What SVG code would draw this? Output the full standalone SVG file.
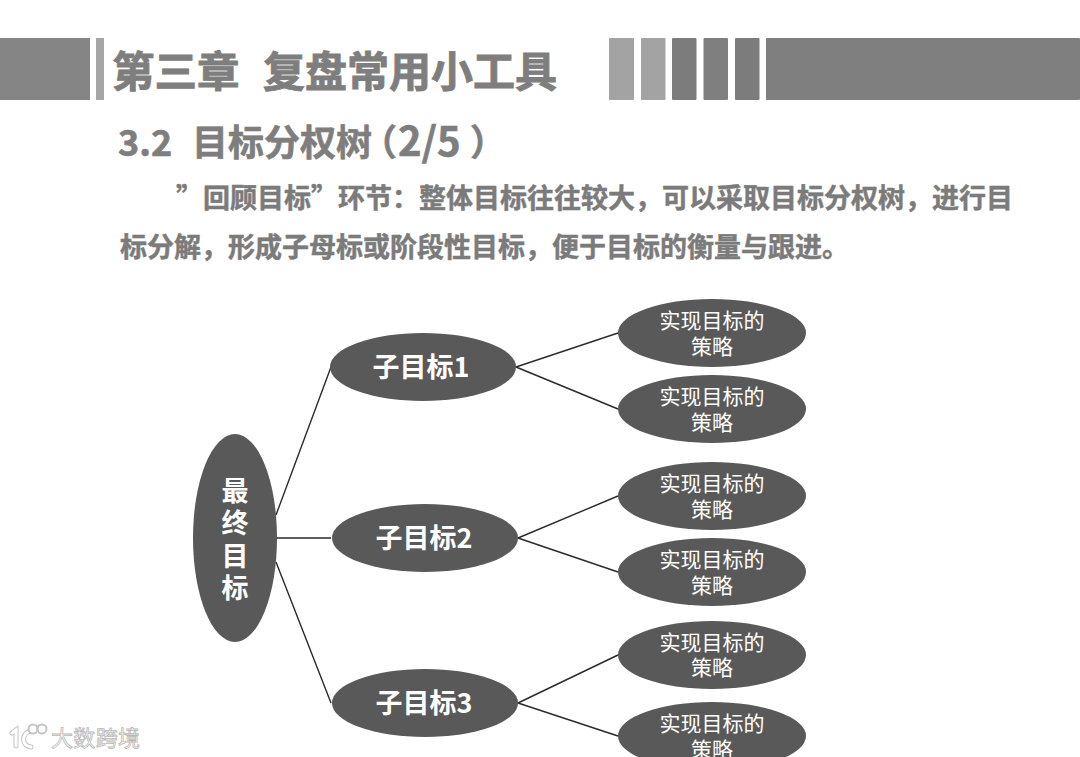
<svg xmlns="http://www.w3.org/2000/svg" width="1080" height="757" viewBox="0 0 1080 757">
<style>
text{font-family:"Noto Sans CJK SC","Liberation Sans",sans-serif}
.h{fill:#7e7e7e;font-weight:700;stroke:#7e7e7e;stroke-width:.9}
.b{fill:#7b7b7b;font-weight:700;font-size:27px;stroke:#7b7b7b;stroke-width:.5}
.o{fill:#595959}
.s{fill:#fff;font-size:21px;text-anchor:middle}
.m{fill:#fff;font-size:27px;font-weight:700;text-anchor:middle}
.c{stroke:#2a2a2a;stroke-width:1.4;fill:none}
.w{fill:none;stroke:#fff;stroke-width:3;stroke-linecap:round}
.w2{fill:none;stroke:#c4c4c4;stroke-width:5;stroke-linecap:round}
</style>
<rect width="1080" height="757" fill="#fff"/>
<g id="header-bars">
<rect x="0" y="38" width="90" height="62" fill="#858585"/>
<rect x="96" y="38" width="8" height="62" fill="#a6a6a6"/>
<rect x="609" y="38" width="25" height="62" rx="1" fill="#a3a3a3"/>
<rect x="641" y="38" width="24.500" height="62" rx="1" fill="#a3a3a3"/>
<rect x="672" y="38" width="24.500" height="62" rx="1" fill="#7c7c7c"/>
<rect x="703.500" y="38" width="24.500" height="62" rx="1" fill="#7f7f7f"/>
<rect x="735" y="38" width="24.500" height="62" rx="1" fill="#7c7c7c"/>
<rect x="766" y="38" width="314" height="62" rx="1" fill="#7f7f7f"/>
</g>
<g id="heading">
<text class="h" x="112" y="87" font-size="42.500">第三章</text>
<text class="h" x="263" y="87" font-size="42">复盘常用小工具</text>
<text class="h" x="118" y="156" font-size="36" style="stroke-width:.6">3.2</text>
<text class="h" x="192" y="156" font-size="36" style="stroke-width:.6">目标分权树<tspan x="361">（</tspan><tspan x="398" font-size="40">2/5</tspan><tspan x="470">）</tspan></text>
</g>
<g id="paragraph">
<text class="b" x="176" y="208">”<tspan x="203">回顾目标”环节：整体目标往往较大，可以采取目标分权树，进行目</tspan></text>
<text class="b" x="120" y="257">标分解，形成子母标或阶段性目标，便于目标的衡量与跟进。</text>
</g>
<g id="connectors" class="c">
<path d="M276 515L331 367M276 538H331M276 562L331 703"/>
<path d="M516 367L618 333M516 367L618 409"/>
<path d="M518 538L618 496M518 538L618 572"/>
<path d="M518 703L618 655M518 703L618 736"/>
</g>
<g id="root"><ellipse class="o" cx="235" cy="538" rx="42" ry="104"/>
<text class="m" x="235" y="501">最</text><text class="m" x="235" y="533">终</text><text class="m" x="235" y="566">目</text><text class="m" x="235" y="598">标</text></g>
<g id="sub1"><ellipse class="o" cx="423" cy="367" rx="93" ry="34"/><text class="m" x="421" y="377">子目标1</text></g>
<g id="sub2"><ellipse class="o" cx="425" cy="538" rx="93" ry="34"/><text class="m" x="424" y="548">子目标2</text></g>
<g id="sub3"><ellipse class="o" cx="425" cy="703" rx="93" ry="34"/><text class="m" x="424" y="713">子目标3</text></g>
<g id="leaf1"><ellipse class="o" cx="712" cy="333" rx="94" ry="34"/><text class="s" x="712" y="328">实现目标的</text><text class="s" x="712" y="354">策略</text></g>
<g id="leaf2"><ellipse class="o" cx="712" cy="409" rx="94" ry="34"/><text class="s" x="712" y="404">实现目标的</text><text class="s" x="712" y="430">策略</text></g>
<g id="leaf3"><ellipse class="o" cx="712" cy="496" rx="94" ry="34"/><text class="s" x="712" y="491">实现目标的</text><text class="s" x="712" y="517">策略</text></g>
<g id="leaf4"><ellipse class="o" cx="712" cy="572" rx="94" ry="34"/><text class="s" x="712" y="567">实现目标的</text><text class="s" x="712" y="593">策略</text></g>
<g id="leaf5"><ellipse class="o" cx="712" cy="655" rx="94" ry="34"/><text class="s" x="712" y="650">实现目标的</text><text class="s" x="712" y="675">策略</text></g>
<g id="leaf6"><ellipse class="o" cx="712" cy="736" rx="94" ry="34"/><text class="s" x="712" y="731">实现目标的</text><text class="s" x="712" y="757">策略</text></g>
<g id="watermark">
<path class="w2" d="M12 733L16 730V746M32 731C22 731 20 746 31 747"/>
<path class="w" d="M12 733L16 730V746M32 731C22 731 20 746 31 747"/>
<circle cx="33" cy="729" r="4.500" fill="#fff" stroke="#c4c4c4" stroke-width="2"/>
<circle cx="42" cy="729" r="4.500" fill="#fff" stroke="#c4c4c4" stroke-width="2"/>
<text x="51" y="746" font-size="22" fill="#fff" stroke="#b8b8b8" stroke-width="0.8" textLength="89">大数跨境</text>
</g>
</svg>
